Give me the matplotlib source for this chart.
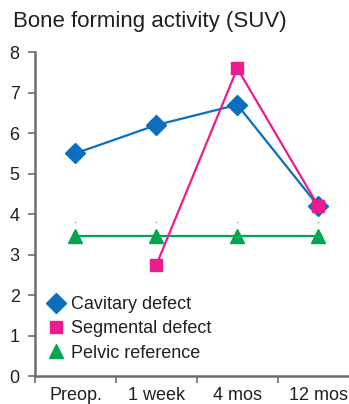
import matplotlib
matplotlib.use("Agg")
import matplotlib.pyplot as plt
import numpy as np

plt.rcParams['font.family'] = ['Liberation Sans', 'DejaVu Sans']

categories = ["Preop.", "1 week", "4 mos", "12 mos"]
cavitary = [5.5, 6.2, 6.7, 4.2]
segmental = [np.nan, 2.75, 7.6, 4.2]
pelvic = [3.45, 3.45, 3.45, 3.45]
pelvic_upper = [3.8, 3.8, 3.8, 3.8]
y_ticks = [0, 1, 2, 3, 4, 5, 6, 7, 8]

blue = "#0A6FBF"
pink = "#EC1C8E"
green = "#00A651"
axis_gray = "#6d6d6d"
text_col = "#231f20"

fig = plt.figure(figsize=(3.49, 4.04), dpi=100)
ax = fig.add_axes([0.1003, 0.069, 0.8997, 0.802])

x = np.arange(len(categories))

ax.plot(x, pelvic_upper, linestyle="none", marker="_", color="#7fd3a3",
        markersize=2, markeredgewidth=1)
ax.plot(x, pelvic, color=green, lw=1.6, marker="^", markersize=10,
        label="Pelvic reference", zorder=3)
ax.plot(x, cavitary, color=blue, lw=1.6, marker="D", markersize=10,
        label="Cavitary defect", zorder=4)
ax.plot(x, segmental, color=pink, lw=1.6, marker="s", markersize=8,
        label="Segmental defect", zorder=5)

ax.set_xlim(-0.5, 3.38)
ax.set_ylim(0, 8)
ax.set_yticks(y_ticks)
ax.set_xticks(x)
ax.set_xticklabels(categories)
ax.set_xticks(np.arange(-0.5, 3.5, 1.0), minor=True)

for s in ["top", "right"]:
    ax.spines[s].set_visible(False)
for s in ["left", "bottom"]:
    ax.spines[s].set_color(axis_gray)
    ax.spines[s].set_linewidth(1.8)

ax.tick_params(axis="y", which="major", length=5, width=1.2, color=axis_gray,
               labelsize=13, labelcolor=text_col, pad=6)
ax.tick_params(axis="x", which="major", length=0, labelsize=13,
               labelcolor=text_col, pad=8)
ax.tick_params(axis="x", which="minor", length=5, width=1.2, color=axis_gray)

handles, labels = ax.get_legend_handles_labels()
order = [1, 2, 0]
leg = ax.legend([handles[i] for i in order], [labels[i] for i in order],
                loc="lower left", bbox_to_anchor=(0.0, 0.006), frameon=False,
                fontsize=13, handlelength=0.9, handletextpad=0.4,
                labelspacing=0.4, borderaxespad=0.3)
for h in leg.legend_handles:
    h.set_linestyle("none")
for t in leg.get_texts():
    t.set_color(text_col)

fig.text(0.036, 0.948, "Bone forming activity (SUV)", fontsize=16,
         color=text_col, ha="left", va="center")

fig.savefig("out.png", dpi=100)
